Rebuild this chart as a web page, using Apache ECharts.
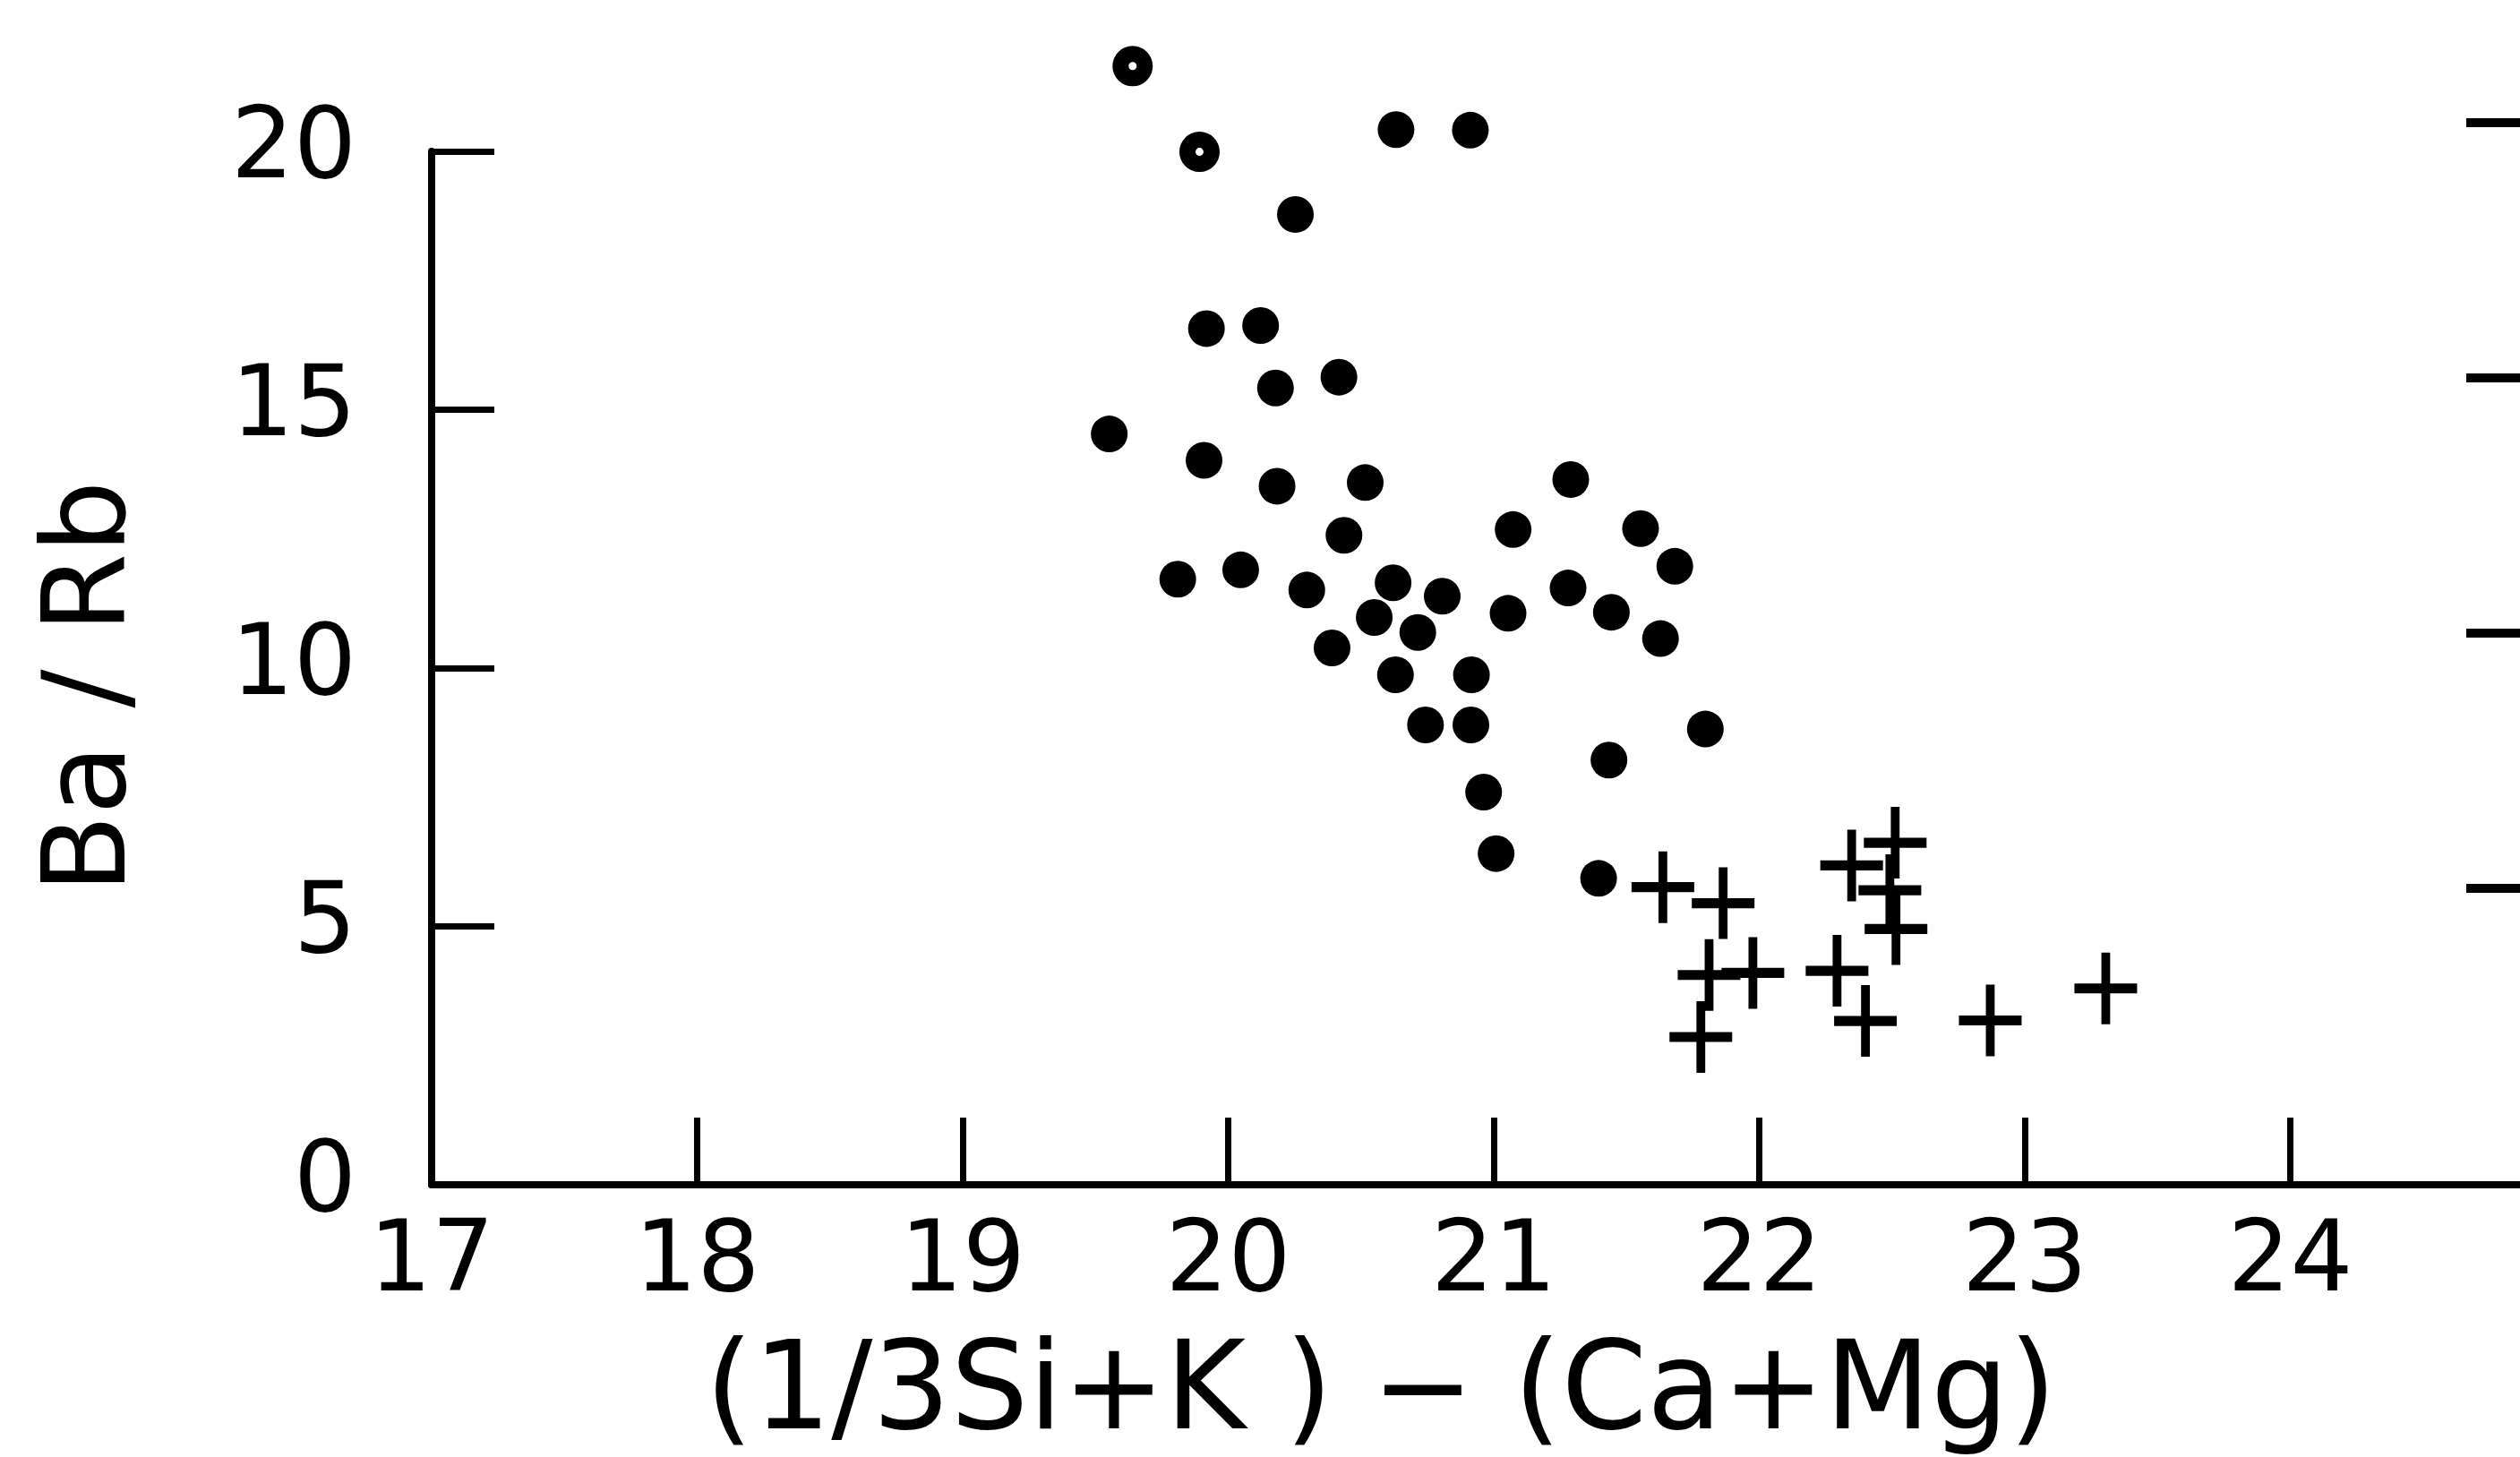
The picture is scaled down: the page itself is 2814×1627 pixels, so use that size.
<!DOCTYPE html>
<html>
<head>
<meta charset="utf-8">
<script src="https://cdn.jsdelivr.net/npm/echarts@6/dist/echarts.min.js"></script>
<style>
  html, body { margin: 0; padding: 0; background: #ffffff; }
  #chart { width: 2814px; height: 1627px; }
</style>
</head>
<body>
<div id="chart"></div>
<script>
// ---- Data ----
// Filled dots
const dotX = [20.632, 20.912, 20.253, 19.918, 20.122, 20.178, 20.417, 19.552, 19.909, 20.184,
              20.516, 21.290, 20.436, 21.073, 21.553, 21.682, 19.810, 20.047, 20.296, 20.621,
              20.806, 21.280, 20.550, 20.714, 21.054, 21.443, 20.391, 21.628, 20.630, 20.916,
              20.743, 20.914, 21.797, 21.434, 20.962, 21.009, 21.395];
const dotY = [20.42, 20.41, 18.78, 16.57, 16.63, 15.42, 15.63, 14.53, 14.02, 13.52,
              13.59, 13.65, 12.57, 12.68, 12.70, 11.97, 11.72, 11.90, 11.51, 11.65,
              11.39, 11.55, 10.98, 10.69, 11.06, 11.08, 10.39, 10.57, 9.87, 9.87,
              8.90, 8.90, 8.82, 8.22, 7.60, 6.41, 5.93];
// Dots with a small open centre (top two)
const openX = [19.64, 19.892];
const openY = [21.65, 19.99];
// Crosses
const crossX = [21.637, 21.864, 22.512, 22.348, 22.492, 22.515, 21.811, 21.976, 21.780, 22.293, 22.400, 22.870, 23.305];
const crossY = [5.76, 5.45, 6.62, 6.18, 5.70, 4.95, 4.06, 4.10, 2.86, 4.14, 3.17, 3.18, 3.80];

// Axis tick labels
const xTickLabels = ['17', '18', '19', '20', '21', '22', '23', '24'];
const yTickLabels = ['0', '5', '10', '15', '20'];
const xAxisTitle = '(1/3Si+K ) \u2212 (Ca+Mg)';
const yAxisTitle = 'Ba / Rb';
// Ticks of the neighbouring panel at the right edge
const rightTickValues = [5, 10, 15, 20];

const FONT = 'DejaVu Sans';
const pts = (xs, ys) => xs.map((x, i) => [x, ys[i]]);
const crossPath = 'path://M43,0h14v43h43v14h-43v43h-14v-43h-43v-14h43z';

const chart = echarts.init(document.getElementById('chart'), null, { renderer: 'canvas' });
chart.setOption({
  animation: false,
  backgroundColor: '#ffffff',
  grid: [
    { left: 482, top: 169, width: 2372, height: 1154, outerBoundsMode: 'none', containLabel: false },
    { left: 2816, top: 137, width: 200, height: 855, outerBoundsMode: 'none', containLabel: false }
  ],
  xAxis: [
    {
      gridIndex: 0,
      type: 'value',
      min: 17, max: 25, interval: 1,
      axisLine: { show: true, onZero: false, lineStyle: { color: '#000', width: 8 } },
      axisTick: { show: true, inside: true, length: 75, lineStyle: { color: '#000', width: 7 } },
      axisLabel: {
        show: true, margin: 34, color: '#000', fontFamily: FONT, fontSize: 110,
        formatter: v => { const i = Math.round(v) - 17; return xTickLabels[i] !== undefined ? xTickLabels[i] : ''; }
      },
      splitLine: { show: false },
      name: xAxisTitle, nameLocation: 'middle', nameGap: 168,
      nameTextStyle: { color: '#000', fontFamily: FONT, fontSize: 137, padding: [0, 252, 0, 0] }
    },
    { gridIndex: 1, type: 'value', min: 0, max: 1, show: false }
  ],
  yAxis: [
    {
      gridIndex: 0,
      type: 'value',
      min: 0, max: 20, interval: 5,
      axisLine: { show: true, onZero: false, lineStyle: { color: '#000', width: 8 } },
      axisTick: { show: true, inside: true, length: 70, lineStyle: { color: '#000', width: 7 } },
      axisLabel: {
        show: true, margin: 84, color: '#000', fontFamily: FONT, fontSize: 110,
        formatter: v => yTickLabels[Math.round(v / 5)]
      },
      splitLine: { show: false },
      name: yAxisTitle, nameLocation: 'middle', nameGap: 312, nameRotate: 90,
      nameTextStyle: { color: '#000', fontFamily: FONT, fontSize: 128, padding: [0, 42, 0, 0] }
    },
    {
      gridIndex: 1,
      type: 'value',
      min: rightTickValues[0], max: rightTickValues[rightTickValues.length - 1], interval: 5,
      axisLine: { show: false },
      axisTick: { show: true, inside: false, length: 62, lineStyle: { color: '#000', width: 10 } },
      axisLabel: { show: false },
      splitLine: { show: false }
    }
  ],
  series: [
    {
      type: 'scatter', xAxisIndex: 0, yAxisIndex: 0,
      data: pts(dotX, dotY),
      symbol: 'circle', symbolSize: 41,
      itemStyle: { color: '#000', opacity: 1 },
      clip: false
    },
    {
      type: 'scatter', xAxisIndex: 0, yAxisIndex: 0,
      data: pts(openX, openY),
      symbol: 'circle', symbolSize: 27,
      itemStyle: { color: '#fff', borderColor: '#000', borderWidth: 18, opacity: 1 },
      clip: false
    },
    {
      type: 'scatter', xAxisIndex: 0, yAxisIndex: 0,
      data: pts(crossX, crossY),
      symbol: crossPath, symbolSize: [70, 80],
      itemStyle: { color: '#000', opacity: 1 },
      clip: false
    },
    { type: 'scatter', xAxisIndex: 1, yAxisIndex: 1, data: [] }
  ]
});
</script>
</body>
</html>
